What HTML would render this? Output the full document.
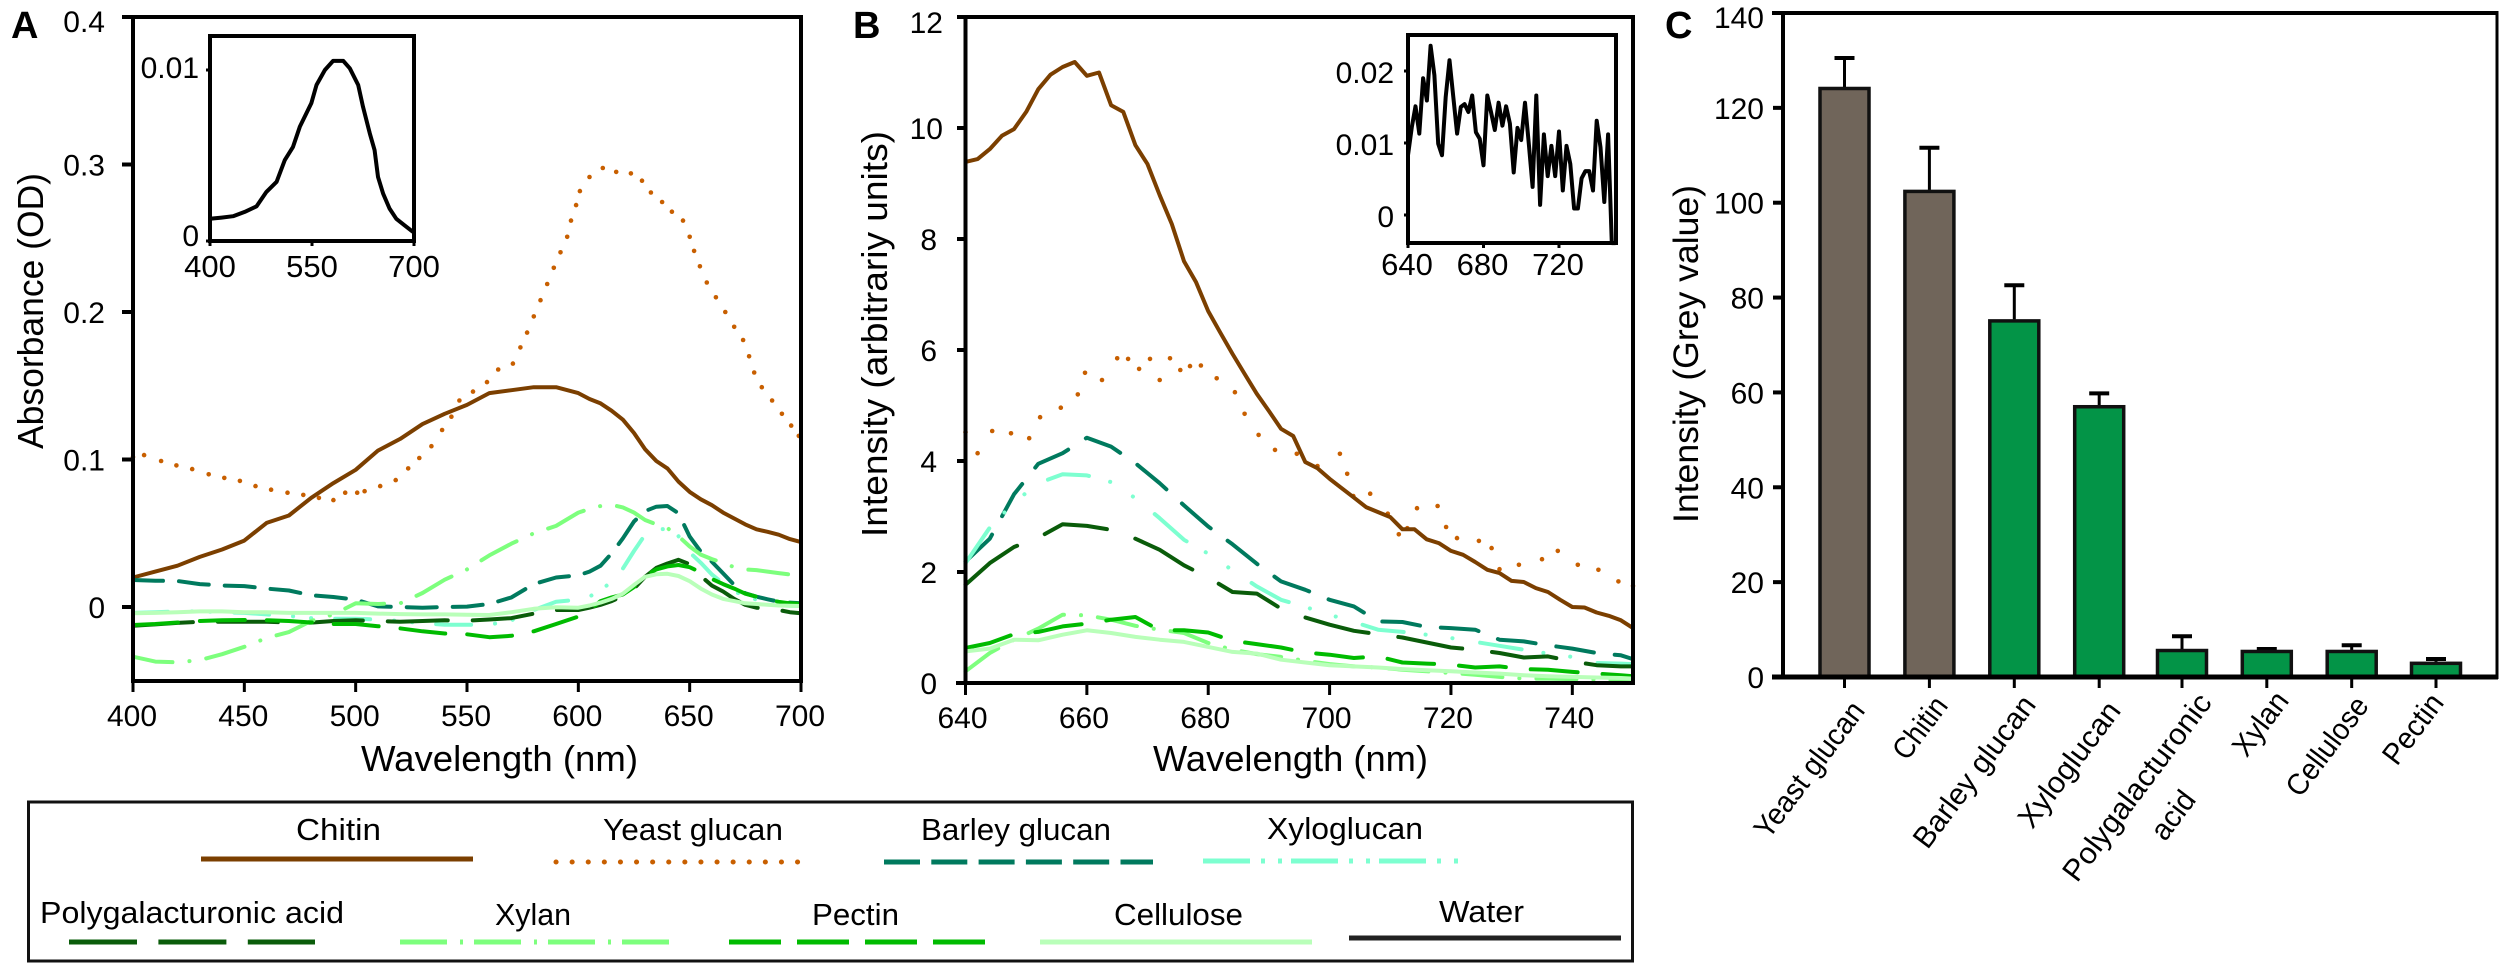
<!DOCTYPE html>
<html lang="en">
<head>
<meta charset="utf-8">
<title>Absorbance and fluorescence spectra of polysaccharides</title>
<style>
html,body{margin:0;padding:0;background:#fff;width:2500px;height:969px;overflow:hidden}
svg{display:block}
text{font-family:"Liberation Sans",sans-serif;fill:#000}
</style>
</head>
<body>
<svg id="fig" xmlns="http://www.w3.org/2000/svg" width="2500" height="969" viewBox="0 0 2500 969">
  <rect x="0" y="0" width="2500" height="969" fill="#fff"/>

  <text x="11" y="38" font-size="38" font-weight="bold">A</text>
  <text x="853" y="38" font-size="38" font-weight="bold">B</text>
  <text x="1665" y="38" font-size="38" font-weight="bold">C</text>

  <g id="panelA"></g>
  <g id="panelAInset"></g>
  <g id="panelB"></g>
  <g id="panelBInset"></g>
  <g id="panelC"></g>

  <text transform="translate(43 449) rotate(-90)" font-size="36" textLength="276" lengthAdjust="spacingAndGlyphs">Absorbance (OD)</text>
  <text x="361" y="771" font-size="36" textLength="277" lengthAdjust="spacingAndGlyphs">Wavelength (nm)</text>
  <text transform="translate(887 537) rotate(-90)" font-size="36" textLength="406" lengthAdjust="spacingAndGlyphs">Intensity (arbitrariy units)</text>
  <text x="1153" y="771" font-size="36" textLength="275" lengthAdjust="spacingAndGlyphs">Wavelength (nm)</text>
  <text transform="translate(1698 523) rotate(-90)" font-size="35" textLength="338" lengthAdjust="spacingAndGlyphs">Intensity (Grey value)</text>

  <g font-size="30" text-anchor="end">
    <text transform="translate(1866 711) rotate(-53)" textLength="162" lengthAdjust="spacingAndGlyphs">Yeast glucan</text>
    <text transform="translate(1949 706) rotate(-53)" textLength="70" lengthAdjust="spacingAndGlyphs">Chitin</text>
    <text transform="translate(2037 705) rotate(-53)" textLength="182" lengthAdjust="spacingAndGlyphs">Barley glucan</text>
    <text transform="translate(2122 711) rotate(-53)" textLength="149" lengthAdjust="spacingAndGlyphs">Xyloglucan</text>
    <text transform="translate(2213 703) rotate(-53)" textLength="226" lengthAdjust="spacingAndGlyphs">Polygalacturonic</text>
    <text transform="translate(2197 800) rotate(-53)" textLength="53" lengthAdjust="spacingAndGlyphs">acid</text>
    <text transform="translate(2290 701) rotate(-53)" textLength="72" lengthAdjust="spacingAndGlyphs">Xylan</text>
    <text transform="translate(2370 706) rotate(-53)" textLength="116" lengthAdjust="spacingAndGlyphs">Cellulose</text>
    <text transform="translate(2445 703) rotate(-53)" textLength="80" lengthAdjust="spacingAndGlyphs">Pectin</text>
  </g>

  <g>
    <rect x="28.5" y="802" width="1604" height="159" fill="none" stroke="#111" stroke-width="3"/>
    <g font-size="31">
      <text x="296" y="840" textLength="85" lengthAdjust="spacingAndGlyphs">Chitin</text>
      <text x="603" y="840" textLength="180" lengthAdjust="spacingAndGlyphs">Yeast glucan</text>
      <text x="921" y="840" textLength="190" lengthAdjust="spacingAndGlyphs">Barley glucan</text>
      <text x="1267" y="839" textLength="156" lengthAdjust="spacingAndGlyphs">Xyloglucan</text>
      <text x="40" y="923" textLength="304" lengthAdjust="spacingAndGlyphs">Polygalacturonic acid</text>
      <text x="495" y="925" textLength="76" lengthAdjust="spacingAndGlyphs">Xylan</text>
      <text x="812" y="925" textLength="87" lengthAdjust="spacingAndGlyphs">Pectin</text>
      <text x="1114" y="925" textLength="129" lengthAdjust="spacingAndGlyphs">Cellulose</text>
      <text x="1439" y="922" textLength="85" lengthAdjust="spacingAndGlyphs">Water</text>
    </g>
    <g fill="none" stroke-width="5">
      <line x1="201" y1="859" x2="473" y2="859" stroke="#7b3f00"/>
      <line x1="556" y1="862" x2="813" y2="862" stroke="#c85f00" stroke-dasharray="0.1 16" stroke-linecap="round"/>
      <line x1="884" y1="862" x2="1153" y2="862" stroke="#007a5e" stroke-dasharray="36 11.3"/>
      <line x1="1203" y1="861" x2="1460" y2="861" stroke="#7dffd0" stroke-dasharray="47 11 4 13 4 9"/>
      <line x1="69" y1="942" x2="315" y2="942" stroke="#0a5c0a" stroke-dasharray="68 21.4"/>
      <line x1="400" y1="942" x2="672" y2="942" stroke="#7dff7d" stroke-dasharray="47 13 3 11"/>
      <line x1="729" y1="942" x2="990" y2="942" stroke="#00bb00" stroke-dasharray="52 16"/>
      <line x1="1040" y1="942" x2="1312" y2="942" stroke="#b9ffb9"/>
      <line x1="1349" y1="938" x2="1621" y2="938" stroke="#222"/>
    </g>
  </g>
</svg>

<script>
/* ---------- Panel A data ---------- */
const wlA = [400,410,420,430,440,450,460,470,480,490,500,510,520,530,540,550,560,570,580,590,600,605,610,615,620,625,630,635,640,645,650,655,660,665,670,675,680,685,690,695,700];
const chitinA = [.02,.024,.028,.034,.039,.045,.057,.062,.074,.084,.093,.106,.114,.124,.131,.137,.145,.147,.149,.149,.145,.141,.138,.133,.127,.118,.107,.099,.094,.085,.078,.073,.069,.064,.06,.056,.0527,.051,.049,.046,.044];
const barleyA = [.0183,.0178,.0176,.0155,.0146,.0142,.0125,.0112,.008,.0068,.005,.0004,0,-.0005,0,.0003,.002,.0065,.0155,.02,.0215,.024,.028,.0364,.0466,.058,.065,.068,.0685,.0635,.0477,.0375,.0307,.0228,.0149,.0093,.007,.0052,.0036,.003,.0025];
const xyloA = [-.004,-.0035,-.003,-.003,-.0035,-.004,-.005,-.006,-.0075,-.008,-.008,-.0085,-.0095,-.011,-.012,-.012,-.012,-.009,-.002,.0035,.005,.007,.0115,.017,.026,.038,.049,.0525,.053,.048,.037,.03,.022,.016,.0105,.0075,.005,.0025,.0012,.0008,.0007];
const polyA = [-.0127,-.0118,-.0108,-.01,-.01,-.01,-.01,-.0105,-.0106,-.0095,-.009,-.0095,-.01,-.0095,-.009,-.0093,-.0085,-.0075,-.0045,-.002,-.002,-.0005,.0015,.004,.0075,.0125,.0205,.0265,.0295,.032,.029,.021,.0145,.0105,.0055,.0015,-.0005,-.0012,-.002,-.0035,-.0043];
const xylanA = [-.0337,-.037,-.0375,-.036,-.032,-.027,-.021,-.017,-.0095,-.005,.0025,.002,.0025,.0095,.0185,.0255,.035,.043,.05,.055,.064,.0665,.0685,.0692,.0675,.064,.059,.056,.0535,.048,.041,.0355,.0325,.03,.027,.0255,.025,.024,.023,.022,.0215];
const pectinA = [-.0122,-.0115,-.0105,-.0095,-.009,-.0088,-.009,-.0095,-.0105,-.0115,-.0115,-.013,-.0145,-.0165,-.018,-.0185,-.0205,-.0195,-.0165,-.0115,-.0065,-.002,.004,.0065,.0085,.0135,.021,.0255,.0275,.0285,.027,.0235,.019,.0155,.0125,.009,.007,.005,.0035,.0025,.002];
const celluloseA = [-.0043,-.004,-.0035,-.003,-.003,-.0035,-.0035,-.004,-.004,-.004,-.004,-.0045,-.0048,-.005,-.005,-.0052,-.0054,-.0035,-.0012,-.0002,-.0005,.001,.003,.0055,.009,.015,.0205,.0222,.0225,.021,.0175,.0125,.0085,.0055,.004,.0025,.002,.0015,.001,.0008,.0007];
const yeastWlA = [400,405,412.6,419.5,426.6,434,441,448,455,462,469.4,476.5,483.5,490,495.3,500.7,504,511,518,523.6,528.6,534,538.8,543,546.6,552.7,559,564,570.6,574,577,580,583,586,589,592,595,596.7,599,600.7,605,611,617,623.6,628.6,632.6,637.6,642,647,650,652,654.6,657.7,661.8,666,670,674,676.7,679,682.4,687,691.4,695.6,699];
const yeastValA = [.1017,.103,.099,.096,.0935,.09,.0875,.0855,.082,.0795,.0775,.076,.074,.0725,.0775,.0775,.0785,.082,.086,.094,.101,.109,.12,.129,.14,.146,.1525,.161,.165,.176,.186,.197,.208,.219,.23,.2405,.251,.262,.2725,.282,.2915,.2976,.295,.294,.289,.281,.2746,.268,.262,.251,.2414,.231,.22,.21,.2,.19,.181,.17,.159,.149,.14,.131,.123,.116];
const yTicksA = [0,0.1,0.2,0.3,0.4];
const yTickLabelsA = ['0','0.1','0.2','0.3','0.4'];
const xTicksA = [400,450,500,550,600,650,700];

/* ---------- Panel A inset data ---------- */
const insetWlA = [400,417,434,451,468.5,483,498,510,522,532,549,556.6,569,581,596,605.6,618,625,635,642,647,654.5,664,674,686,698.6];
const insetValA = [.0013,.00137,.00145,.0017,.00203,.00287,.00346,.00473,.0055,.00668,.00805,.00912,.01,.01053,.01053,.0101,.00912,.00785,.00629,.00531,.00375,.00277,.0019,.0013,.00092,.00053];
const insetXTicksA = [400,550,700];
const insetYTicksA = [0,0.01];
const insetYLabelsA = ['0','0.01'];

/* ---------- Panel B data ---------- */
const wlB2 = [640,642,644,646,648,650,652,654,656,658,660,662,664,666,668,670,672,674,676,678,680,682,684,686,688,690,692,694,696,698,700,702,704,706,708,710,712,714,716,718,720,722,724,726,728,730,732,734,736,738,740,742,744,746,748,750];
const chitinB = [9.39,9.44,9.62,9.86,9.98,10.29,10.7,10.96,11.1,11.19,10.94,11,10.41,10.29,9.69,9.35,8.79,8.27,7.6,7.22,6.7,6.31,5.93,5.57,5.21,4.9,4.58,4.45,3.98,3.87,3.68,3.51,3.34,3.17,3.08,2.99,2.77,2.77,2.59,2.52,2.38,2.31,2.18,2.04,1.98,1.84,1.82,1.71,1.64,1.5,1.37,1.36,1.27,1.21,1.13,.99];
const wlB4 = [640,644,648,652,656,660,664,668,672,676,680,684,688,692,696,700,704,708,712,716,720,724,728,732,736,740,744,748,750];
const barleyB = [2.19,2.6,3.4,3.95,4.14,4.42,4.26,3.96,3.6,3.2,2.82,2.5,2.15,1.83,1.68,1.5,1.38,1.11,1.1,1.01,.99,.96,.78,.75,.68,.62,.54,.5,.43];
const xyloB = [2.16,2.8,3.25,3.6,3.76,3.74,3.62,3.33,2.97,2.58,2.33,2.03,1.74,1.5,1.37,1.23,1.1,.96,.92,.87,.81,.74,.67,.6,.53,.47,.36,.35,.34];
const polyB = [1.77,2.16,2.45,2.62,2.86,2.83,2.76,2.6,2.4,2.12,1.9,1.64,1.61,1.34,1.18,1.05,.94,.88,.82,.73,.64,.6,.54,.46,.48,.39,.32,.3,.3];
const xylanB = [.21,.54,.78,.98,1.23,1.22,1.14,1.03,.96,.9,.72,.6,.52,.47,.4,.34,.3,.28,.24,.21,.18,.15,.11,.08,.08,.07,.06,.05,.04];
const pectinB = [.63,.72,.88,.92,1.02,1.07,1.14,1.19,.95,.95,.91,.76,.7,.64,.55,.51,.45,.48,.37,.35,.33,.28,.3,.25,.24,.2,.17,.14,.12];
const celluloseB = [.57,.62,.78,.77,.87,.95,.9,.83,.78,.74,.65,.56,.53,.42,.37,.32,.3,.28,.25,.23,.21,.19,.17,.14,.12,.11,.1,.09,.08];
const yeastWlB = [640,642,644.4,647.5,650.5,652.3,655.7,658.5,659.7,662.5,665,666.8,668.6,670.4,672,673.7,675.4,677,678.8,681.4,684.4,686,688.3,691,694.6,698,701.7,702.9,703.9,706.7,709.6,711.4,712.8,714.4,717.8,719.2,721,724.6,726.7,728,731.2,735,737.6,740.9,744.3,747.6,750];
const yeastValB = [4.52,4.14,4.54,4.5,4.41,4.79,4.96,5.2,5.59,5.46,5.85,5.84,5.66,5.84,5.46,5.85,5.64,5.71,5.72,5.49,5.24,4.85,4.47,4.2,4.13,3.91,4.13,3.77,3.37,3.41,3.05,2.68,2.79,3.15,3.19,2.81,2.61,2.56,2.43,2.05,2.13,2.23,2.38,2.13,2.04,1.83,1.75];
const yTicksB = [0,2,4,6,8,10,12];
const yTickLabelsB = ['0','2','4','6','8','10','12'];
const xTicksB = [640,660,680,700,720,740];

/* ---------- Panel B inset data ---------- */
const insetValB = [.0083,.0122,.0151,.0113,.019,.0159,.0235,.0194,.0099,.0083,.0164,.0215,.0164,.0113,.015,.0154,.0143,.0166,.0115,.0106,.0069,.0166,.0143,.0118,.0156,.0124,.0151,.0127,.0059,.0121,.0104,.0156,.0099,.0039,.0166,.0014,.0112,.0054,.0096,.0054,.0116,.0034,.0096,.0071,.0009,.0009,.0051,.0061,.0061,.0034,.0131,.0094,.0018,.0112,-.0039,-.0039];
const insetXTicksB = [640,680,720];
const insetYTicksB = [0,0.01,0.02];
const insetYLabelsB = ['0','0.01','0.02'];

/* ---------- Panel C data ---------- */
const categories = ['Yeast glucan','Chitin','Barley glucan','Xyloglucan','Polygalacturonic acid','Xylan','Cellulose','Pectin'];
const barValues = [124.4,102.7,75.4,57.3,5.9,5.7,5.7,3.2];
const errorTops = [130.5,111.6,82.6,59.8,8.6,5.9,6.7,3.8];
const yTicksC = [0,20,40,60,80,100,120,140];

/* ---------- Axis functions ---------- */
const xA = w => 133 + (w - 400) * (801 - 133) / 300;
const yA = v => 607 - 1475 * v;
const xAi = w => 210 + (w - 400) * (414 - 210) / 300;
const yAi = v => 241 - 17100 * v;
const xB = w => 965.5 + (w - 640) * (1633 - 965.5) / 110;
const yB = v => 683 - 55.5 * v;
const xBi = w => 1408 + (w - 640) * (1615.6 - 1408) / 110;
const yBi = v => 215 - 7200 * v;
const barSlotX = [1844.5,1929.4,2014.3,2099.2,2182,2266.8,2351.7,2436];
const xC = i => barSlotX[i];
const yC = v => 677 - (677 - 13) / 140 * v;

const NS = 'http://www.w3.org/2000/svg';
function mk(tag, attrs, parent) {
  const el = document.createElementNS(NS, tag);
  for (const k in attrs) el.setAttribute(k, attrs[k]);
  parent.appendChild(el);
  return el;
}
function pathD(xs, ys, xf, yf) {
  return xs.map((x, i) => (i ? 'L' : 'M') + xf(x).toFixed(1) + ' ' + yf(ys[i]).toFixed(1)).join('');
}
function drawLine(parent, name, xs, ys, xf, yf, color, dash, width) {
  const el = mk('path', {d: pathD(xs, ys, xf, yf), fill: 'none', stroke: color, 'stroke-width': width, 'stroke-linejoin': 'round', 'stroke-linecap': dash ? 'round' : 'butt'}, parent);
  if (dash) el.setAttribute('stroke-dasharray', dash);
  
  
  return el;
}
function drawDots(parent, name, xs, ys, xf, yf, color) {
  xs.forEach((x, i) => {
    const el = mk('circle', {cx: xf(x).toFixed(1), cy: yf(ys[i]).toFixed(1), r: 2.3, fill: color}, parent);
    
    
  });
}
function hLine(parent, name, x1, x2, y, w) {
  const el = mk('line', {x1: x1, x2: x2, y1: y, y2: y, stroke: '#000', 'stroke-width': w}, parent);
  
  
}
function vLine(parent, name, x, y1, y2, w) {
  const el = mk('line', {x1: x, x2: x, y1: y1, y2: y2, stroke: '#000', 'stroke-width': w}, parent);
  
  
}
function label(parent, name, x, y, size, anchor, str) {
  const el = mk('text', {x: x, y: y, 'font-size': size, 'text-anchor': anchor}, parent);
  el.textContent = str;
  
  
}

/* ---------- Panel A ---------- */
const gA = document.getElementById('panelA');
drawDots(gA, 'yeast-glucan-point', yeastWlA, yeastValA, xA, yA, '#c85f00');
drawLine(gA, 'chitin-line', wlA, chitinA, xA, yA, '#7b3f00', '', 4);
drawLine(gA, 'barley-glucan-line', wlA, barleyA, xA, yA, '#007a5e', '30 16', 4);
drawLine(gA, 'xyloglucan-line', wlA, xyloA, xA, yA, '#7dffd0', '35 24 .1 18 .1 24', 4);
drawLine(gA, 'polygalacturonic-acid-line', wlA, polyA, xA, yA, '#0a5c0a', '60 25', 4);
drawLine(gA, 'xylan-line', wlA, xylanA, xA, yA, '#7dff7d', '40 17 .1 17', 4);
drawLine(gA, 'pectin-line', wlA, pectinA, xA, yA, '#00bb00', '45 22', 4);
drawLine(gA, 'cellulose-line', wlA, celluloseA, xA, yA, '#b9ffb9', '', 4);
hLine(gA, 'a-top-border', 123, 803, 17, 4);
hLine(gA, 'a-x-axis', 131, 803, 681, 4);
vLine(gA, 'a-y-axis', 133, 15, 683, 4);
vLine(gA, 'a-right-border', 801, 15, 683, 4);
yTicksA.forEach((v, i) => {
  hLine(gA, 'a-y-tick', 122, 133, yA(v), 4);
  label(gA, 'a-y-tick-label', 105, yA(v) + (v === 0.4 ? 15 : 11), 30, 'end', yTickLabelsA[i]);
});
xTicksA.forEach(w => {
  vLine(gA, 'a-x-tick', xA(w), 681, 692, 3);
  label(gA, 'a-x-tick-label', xA(w) - 1, 726, 30, 'middle', String(w));
});

/* ---------- Panel A inset ---------- */
const gAi = document.getElementById('panelAInset');
const aFrame = mk('rect', {x: 210, y: 36, width: 204, height: 205, fill: 'none', stroke: '#000', 'stroke-width': 4}, gAi);


drawLine(gAi, 'a-inset-line', insetWlA, insetValA, xAi, yAi, '#000', '', 4);
insetYTicksA.forEach((v, i) => {
  hLine(gAi, 'a-inset-y-tick', 206, 210, yAi(v), 3);
  label(gAi, 'a-inset-y-tick-label', 199, yAi(v) + (v === 0 ? 5 : 8), 30, 'end', insetYLabelsA[i]);
});
insetXTicksA.forEach(w => {
  vLine(gAi, 'a-inset-x-tick', xAi(w), 241, 246, 3);
  label(gAi, 'a-inset-x-tick-label', xAi(w), 277, 31, 'middle', String(w));
});

/* ---------- Panel B ---------- */
const gB = document.getElementById('panelB');
drawDots(gB, 'yeast-glucan-point', yeastWlB, yeastValB, xB, yB, '#c85f00');
drawLine(gB, 'chitin-line', wlB2, chitinB, xB, yB, '#7b3f00', '', 4);
drawLine(gB, 'barley-glucan-line', wlB4, barleyB, xB, yB, '#007a5e', '38 21', 4);
drawLine(gB, 'xyloglucan-line', wlB4, xyloB, xB, yB, '#7dffd0', '42 22 .1 27 .1 28', 4);
drawLine(gB, 'polygalacturonic-acid-line', wlB4, polyB, xB, yB, '#0a5c0a', '65 30', 4);
drawLine(gB, 'xylan-line', wlB4, xylanB, xB, yB, '#7dff7d', '40 17 .1 17', 4);
drawLine(gB, 'pectin-line', wlB4, pectinB, xB, yB, '#00bb00', '47 25', 4);
drawLine(gB, 'cellulose-line', wlB4, celluloseB, xB, yB, '#b9ffb9', '', 4);
hLine(gB, 'b-top-border', 957, 1635, 17, 4);
hLine(gB, 'b-x-axis', 956, 1635, 683, 4);
vLine(gB, 'b-y-axis', 965.5, 15, 685, 4);
vLine(gB, 'b-right-border', 1633, 15, 685, 4);
yTicksB.forEach((v, i) => {
  hLine(gB, 'b-y-tick', 957, 965, yB(v), 4);
  label(gB, 'b-y-tick-label', v >= 10 ? 943 : 937, yB(v) + (v === 12 ? 16 : 11), 30, 'end', yTickLabelsB[i]);
});
xTicksB.forEach(w => {
  vLine(gB, 'b-x-tick', xB(w), 683, 695, 3);
  label(gB, 'b-x-tick-label', xB(w) - 3, 728, 30, 'middle', String(w));
});

/* ---------- Panel B inset ---------- */
const gBi = document.getElementById('panelBInset');
const bFrame = mk('rect', {x: 1408, y: 35, width: 208, height: 208, fill: 'none', stroke: '#000', 'stroke-width': 4}, gBi);


drawLine(gBi, 'b-inset-line', wlB2, insetValB, xBi, yBi, '#000', '', 4);
insetYTicksB.forEach((v, i) => {
  hLine(gBi, 'b-inset-y-tick', 1404, 1408, yBi(v), 3);
  label(gBi, 'b-inset-y-tick-label', 1394, yBi(v) + 12, 30, 'end', insetYLabelsB[i]);
});
insetXTicksB.forEach(w => {
  vLine(gBi, 'b-inset-x-tick', xBi(w), 243, 248, 3);
  label(gBi, 'b-inset-x-tick-label', xBi(w) - 1, 275, 31, 'middle', String(w));
});

/* ---------- Panel C ---------- */
const gC = document.getElementById('panelC');
const barFill = ['#70655a','#70655a','#039447','#039447','#039447','#039447','#039447','#039447'];
barValues.forEach((v, i) => {
  const cx = xC(i);
  vLine(gC, 'error-bar-stem', cx, yC(errorTops[i]), yC(v), 3);
  hLine(gC, 'error-bar-cap', cx - 10, cx + 10, yC(errorTops[i]), 4);
  const bar = mk('rect', {x: cx - 24.5, y: yC(v) + 1.5, width: 49, height: yC(0) - yC(v) - 1.5, fill: barFill[i], stroke: '#111', 'stroke-width': 3.5}, gC);
  
  
  vLine(gC, 'c-x-tick', cx, 677, 688, 3);
});
hLine(gC, 'c-top-border', 1772, 2498, 13, 4);
hLine(gC, 'c-x-axis', 1772, 2498, 677, 5);
vLine(gC, 'c-y-axis', 1783, 11, 679, 4);
vLine(gC, 'c-right-border', 2497, 11, 679, 3);
yTicksC.forEach(v => {
  hLine(gC, 'c-y-tick', 1773, 1783, yC(v), 4);
  label(gC, 'c-y-tick-label', 1764, yC(v) + (v === 140 ? 15 : 11), 30, 'end', String(v));
});
</script>
</body>
</html>
